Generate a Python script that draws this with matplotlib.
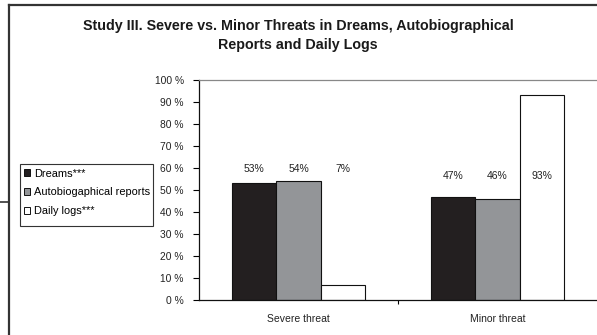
import matplotlib
matplotlib.use("Agg")
import matplotlib.pyplot as plt
from matplotlib.lines import Line2D
from matplotlib.patches import Patch, Rectangle
import numpy as np

plt.rcParams['font.family'] = ['Liberation Sans', 'DejaVu Sans']

categories = ["Severe threat", "Minor threat"]
series_names = ["Dreams***", "Autobiogaphical reports", "Daily logs***"]
dreams = [53, 47]
autobio = [54, 46]
daily = [7, 93]
label_y = [59.5, 56.5]
yticks = list(range(0, 101, 10))
ytick_labels = [f"{v} %" for v in yticks]

colors = ["#231f20", "#939598", "#ffffff"]

W, H = 597, 335
fig = plt.figure(figsize=(W / 100, H / 100), dpi=100)

# outer frame lines
fig.add_artist(Line2D([8.5 / W, 8.5 / W], [0, 1 - 5 / H], color="#333333", lw=1.6, transform=fig.transFigure))
fig.add_artist(Line2D([8.5 / W, 1], [1 - 5 / H, 1 - 5 / H], color="#333333", lw=1.6, transform=fig.transFigure))
fig.add_artist(Line2D([0, 8.5 / W], [1 - 202 / H, 1 - 202 / H], color="#333333", lw=1.2, transform=fig.transFigure))

fig.text(298 / W, 1 - 26 / H, "Study III. Severe vs. Minor Threats in Dreams, Autobiographical",
         ha="center", va="center", fontsize=10.3, fontweight="bold", color="#1a1a1a")
fig.text(298 / W, 1 - 45 / H, "Reports and Daily Logs",
         ha="center", va="center", fontsize=10.3, fontweight="bold", color="#1a1a1a")

ax = fig.add_axes([199 / W, 35 / H, 398 / W, 220 / H])
x = np.arange(len(categories))
bw = 0.222
all_series = [dreams, autobio, daily]
for i, (vals, c, name) in enumerate(zip(all_series, colors, series_names)):
    pos = x + (i - 1) * bw
    ax.bar(pos, vals, width=bw, color=c, edgecolor="#111111", linewidth=0.8, label=name, zorder=2)
    for p, v, ly in zip(pos, vals, label_y):
        ax.text(p, ly, f"{v}%", ha="center", va="center", fontsize=7.5, color="#222222")

ax.set_xlim(-0.5, 1.5)
ax.set_ylim(0, 100)
ax.set_yticks(yticks)
ax.set_yticklabels(ytick_labels, fontsize=7.4, color="#222222")
ax.set_xticks([0.5], minor=False)
ax.set_xticklabels([""])
ax.tick_params(axis="x", length=3, direction="out", width=0.8)
ax.tick_params(axis="y", length=4, direction="out", width=0.8, pad=7)
for c_i, name in enumerate(categories):
    ax.text(c_i, -6.5, name, ha="center", va="top", fontsize=7.5, color="#222222")

ax.spines["left"].set_color("#111111")
ax.spines["bottom"].set_color("#111111")
ax.spines["top"].set_color("#888888")
ax.spines["right"].set_visible(False)
for s in ["left", "bottom", "top"]:
    ax.spines[s].set_linewidth(0.9)

# legend box
fig.add_artist(Rectangle((20 / W, 1 - 226 / H), 133 / W, 62 / H, transform=fig.transFigure,
                         facecolor="white", edgecolor="#333333", linewidth=0.8, zorder=3))
handles = [Patch(facecolor=c, edgecolor="#111111", linewidth=0.7) for c in colors]
leg = fig.legend(handles, series_names, loc="upper left", bbox_to_anchor=(20 / W, 1 - 165 / H),
                 fontsize=7.9, frameon=False,
                 handlelength=0.6, handleheight=0.6, handletextpad=0.3,
                 borderpad=0.35, labelspacing=0.78, borderaxespad=0)
leg.set_zorder(4)

fig.savefig("out.png", dpi=100)
